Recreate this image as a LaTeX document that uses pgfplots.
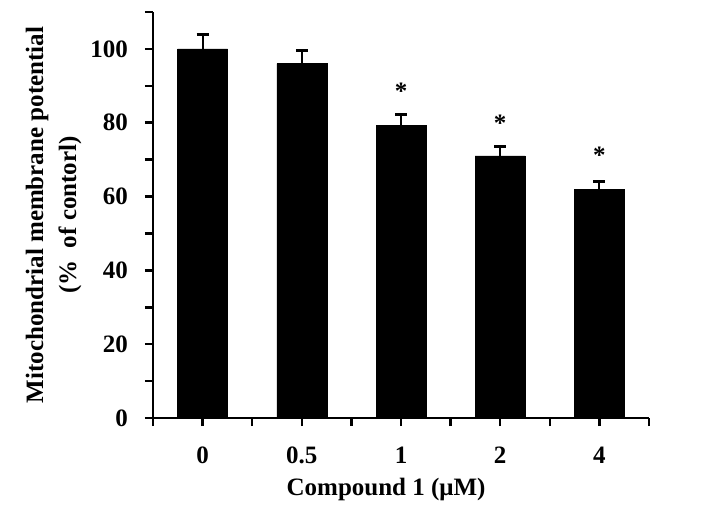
\documentclass[border=0pt]{standalone}
\usepackage{fontspec}
\setmainfont{Liberation Serif}
\usepackage{pgfplots}
\pgfplotsset{compat=1.18}
\begin{document}
\begin{tikzpicture}
\begin{axis}[
  name=ax,
  scale only axis, width=496pt, height=406pt,
  xmin=-0.5, xmax=4.5, ymin=0, ymax=110,
  clip=false,
  axis x line=bottom, axis y line=left,
  axis line style={-, line width=2.5pt, black},
  xtick={0,1,2,3,4}, xticklabels={0,0.5,1,2,4},
  minor xtick={-0.5,0.5,1.5,2.5,3.5,4.5},
  ytick={0,20,40,60,80,100}, minor ytick={10,30,50,70,90,110},
  tick align=outside,
  every tick/.style={line width=2.5pt, black},
  major tick length=8pt, minor tick length=8pt,
  /pgf/number format/assume math mode=true,
  tick label style={font=\bfseries\fontsize{25}{30}\selectfont, inner sep=0pt},
  xticklabel style={anchor=center, yshift=-29pt},
  yticklabel style={anchor=east, xshift=-17pt},
  xlabel={Compound 1 (μM)},
  ylabel={Mitochondrial membrane potential\\(\%~~of contorl)},
  every axis x label/.style={at={(axis description cs:0.47,0)}, anchor=center, yshift=-71pt, font=\bfseries\fontsize{25}{30}\selectfont},
  every axis y label/.style={at={(axis description cs:-0.2006,0.5)}, rotate=90, anchor=center, align=center, font=\bfseries\fontsize{25}{33}\selectfont},
]
\addplot[ybar, bar width=50pt, fill=black, draw=black,
  error bars/.cd, y dir=plus, y explicit, error mark=|,
  error bar style={line width=2pt, black},
  error mark options={mark size=6pt, line width=3pt, black}]
  coordinates {(0,100) +- (0,3.8) (1,96) +- (0,3.5) (2,79.3) +- (0,2.8) (3,71) +- (0,2.5) (4,62) +- (0,2.1)};
\addplot[only marks, mark=text, text mark={\bfseries\fontsize{25}{30}\selectfont *}]
  coordinates {(2,88.5) (3,79.9) (4,71.3)};
\end{axis}
\pgfresetboundingbox
\path ([xshift=-153pt,yshift=-102pt]ax.south west) rectangle ([xshift=65pt,yshift=12pt]ax.north east);
\end{tikzpicture}
\end{document}
